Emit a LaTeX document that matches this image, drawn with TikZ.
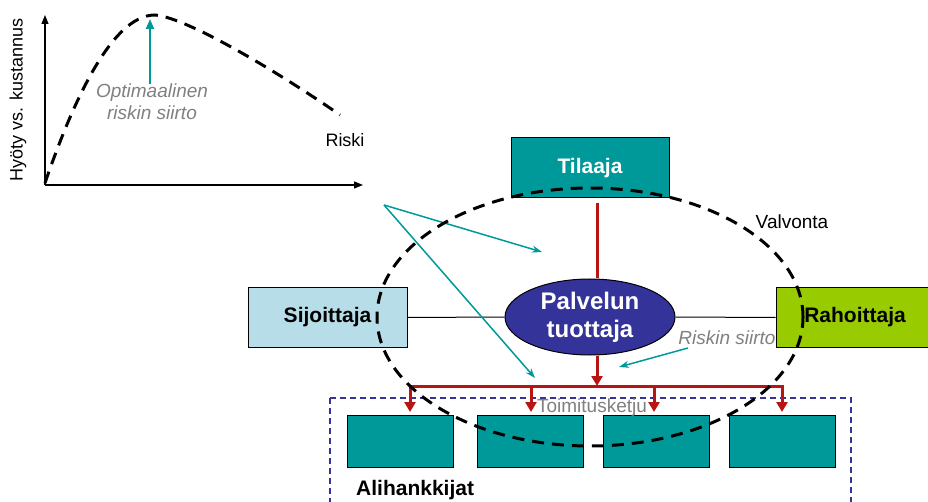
\documentclass[tikz,border=0pt]{standalone}
\usepackage{fontspec}
\setmainfont{Liberation Sans}
\usetikzlibrary{arrows.meta,shapes.geometric}
\definecolor{teal1}{HTML}{009999}
\definecolor{navy1}{HTML}{333399}
\definecolor{lblue}{HTML}{B7DEE8}
\definecolor{lime1}{HTML}{99CC00}
\definecolor{red1}{HTML}{B81414}
\definecolor{grey1}{HTML}{808080}
\tikzset{
  box/.style={draw=black,line width=1pt,rectangle,inner sep=0pt},
  bigtxt/.style={font=\fontsize{21}{24}\selectfont\bfseries},
  lbl/.style={font=\fontsize{18}{21}\selectfont,inner sep=0pt},
  redline/.style={draw=red1,line width=3pt},
  redarr/.style={draw=red1,line width=3pt,-{Triangle[length=10pt,width=11pt]}},
  tealarr/.style={draw=teal1,line width=1.5pt,-{Stealth[length=10pt,width=7pt]}},
  bigdash/.style={draw=black,line width=3pt,dash pattern=on 12pt off 8pt},
}
\begin{document}
\begin{tikzpicture}[x=1pt,y=-1pt]
\useasboundingbox (0,0) rectangle (928,502);
\clip (0,0) rectangle (928,502);
% graph
\coordinate (o) at (45,185);
\coordinate (ytop) at (45,15);
\coordinate (xend) at (363,185);
\draw[line width=1.2pt,-{Triangle[length=9pt,width=7pt]}] (o) -- (ytop);
\draw[line width=1.2pt,-{Triangle[length=9pt,width=7pt]}] (o) -- (xend);
\draw[bigdash] (45,183) .. controls (70,110) and (110,15) .. (155,15)
  .. controls (190,18) and (290,80) .. (340,115);
\node[lbl,rotate=90] (ylab) at (18,100) {Hyöty vs. kustannus};
\node[lbl,text=grey1,font=\fontsize{19}{22}\selectfont\itshape,align=center] (opt) at (152,102) {Optimaalinen\\riskin siirto};
\coordinate (peak) at (150,19);
\draw[draw=teal1,line width=2pt,-{Triangle[length=10pt,width=8pt]}] (opt.north -| peak) -- (peak);
\node[lbl,font=\fontsize{18}{21}\selectfont] (riski) at (345,140) {Riski};
% supply chain frame
\draw[draw=navy1,line width=1.2pt,dash pattern=on 6pt off 4pt] (330,398) rectangle (851,520);
% main boxes
\node[box,fill=teal1,minimum width=158pt,minimum height=60pt,bigtxt,text=white] (tilaaja) at (590,168) {Tilaaja};
\node[box,fill=lblue,minimum width=159pt,minimum height=59pt,bigtxt] (sij) at (327.5,317.5) {Sijoittaja};
\node[box,fill=lime1,minimum width=158pt,minimum height=59pt,bigtxt] (rah) at (855,317.5) {Rahoittaja};
\node[draw=black,line width=1pt,ellipse,fill=navy1,minimum width=170pt,minimum height=76pt,inner sep=0pt,
  font=\fontsize{24}{28}\selectfont\bfseries,text=white,align=center] (pt) at (590,317) {Palvelun\\tuottaja};
\draw[line width=1pt] (sij.east) -- (pt.west);
\draw[line width=1pt] (pt.east) -- (rah.west);
% subcontractors
\node[box,fill=teal1,minimum width=106pt,minimum height=52pt] (s1) at (400,441) {};
\node[box,fill=teal1,minimum width=106pt,minimum height=52pt] (s2) at (530,441) {};
\node[box,fill=teal1,minimum width=106pt,minimum height=52pt] (s3) at (656,441) {};
\node[box,fill=teal1,minimum width=106pt,minimum height=52pt] (s4) at (782,441) {};
\node[lbl,text=grey1,font=\fontsize{19}{22}\selectfont] (toim) at (592,408) {Toimitusketju};
\node[lbl,anchor=west,font=\fontsize{21}{24}\selectfont\bfseries] (ali) at (356,490) {Alihankkijat};
% red flow
\coordinate (rx) at (597,0);
\coordinate (bar) at (597,386);
\coordinate (bl) at (410,386);
\coordinate (br) at (782,386);
\draw[redline] (tilaaja.south -| rx) ++(0,5) coordinate (rtop) -- (pt.north -| rx);
\draw[redarr] (pt.south -| rx) -- (bar);
\draw[draw=red1,line width=3pt,line cap=rect] (bl) -- (br);
\coordinate (a1) at (410,412);
\coordinate (a2) at (531,412);
\coordinate (a3) at (654,412);
\coordinate (a4) at (782,412);
\draw[redarr] (bl) -- (a1);
\draw[redarr] (a2 |- bar) -- (a2);
\draw[redarr] (a3 |- bar) -- (a3);
\draw[redarr] (br) -- (a4);
% teal risk arrows
\coordinate (rs) at (384,205);
\coordinate (re1) at (542,252);
\coordinate (re2) at (535,378);
\draw[tealarr] (rs) -- (re1);
\draw[tealarr] (rs) -- (re2);
\node[lbl,text=grey1,font=\fontsize{19}{22}\selectfont\itshape] (rsiirto) at (727,338) {Riskin siirto};
\coordinate (rs2) at (688,348);
\coordinate (re3) at (619,367);
\draw[tealarr] (rs2) -- (re3);
\node[lbl,font=\fontsize{19}{22}\selectfont] (valv) at (792,222) {Valvonta};
% supervision ellipse
\draw[bigdash] (590,317) ellipse [x radius=213pt, y radius=129pt];
\end{tikzpicture}
\end{document}
